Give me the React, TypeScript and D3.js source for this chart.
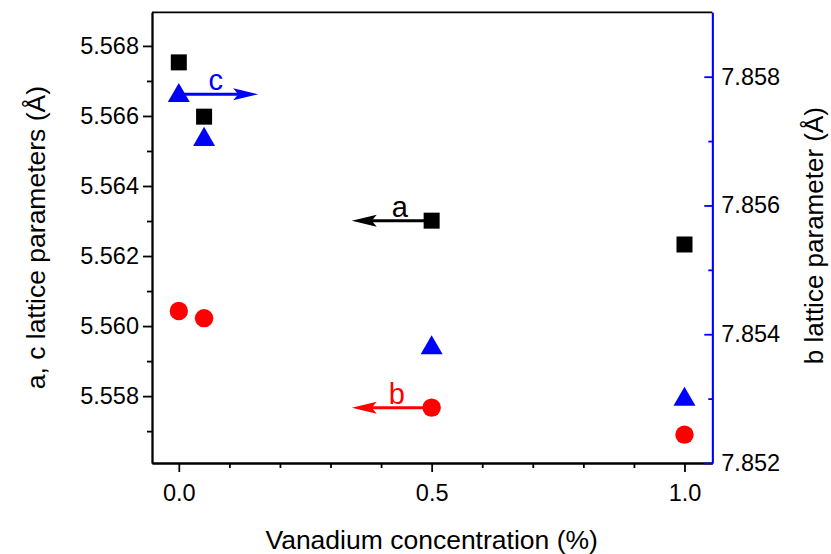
import React, { useEffect, useRef } from "react";
import * as d3 from "d3";

// vanadium concentration (%)
const conc = [0, 0.05, 0.5, 1.0];
// a lattice parameter (left axis), squares
const aValues = [5.56753, 5.56598, 5.56301, 5.56233];
// c lattice parameter (left axis), triangles
const cValues = [5.56662, 5.56537, 5.55942, 5.55795];
// b lattice parameter (right axis), circles
const bValues = [7.85436, 7.85425, 7.85286, 7.85244];

const xTicks = [0, 0.5, 1.0];
const xMinor = [0.1, 0.2, 0.3, 0.4, 0.6, 0.7, 0.8, 0.9];
const leftTicks = [5.558, 5.56, 5.562, 5.564, 5.566, 5.568];
const leftMinor = [5.557, 5.559, 5.561, 5.563, 5.565, 5.567];
const rightTicks = [7.852, 7.854, 7.856, 7.858];
const rightMinor = [7.853, 7.855, 7.857];

// arrow annotations: label, start x, end x, value, axis, colour, label x
const arrows = [
  { label: "a", from: 0.5, to: 0.342, value: 5.56301, axis: "left", color: "#000000", lx: 0.437 },
  { label: "c", from: 0.0, to: 0.157, value: 5.56662, axis: "left", color: "#0000ff", lx: 0.073 },
  { label: "b", from: 0.5, to: 0.342, value: 7.85286, axis: "right", color: "#ff0000", lx: 0.431 },
];

const App = () => {
  const ref = useRef<SVGSVGElement>(null);

  useEffect(() => {
    const svg = d3.select(ref.current);
    svg.selectAll("*").remove();

    const width = 831;
    const height = 554;
    const margin = { top: 12.3, right: 118.7, bottom: 91, left: 152 };
    const font = "'Liberation Sans', Arial, sans-serif";

    svg.attr("width", width).attr("height", height);

    const x = d3.scaleLinear().domain([-0.053, 1.055]).range([margin.left, width - margin.right]);
    const yL = d3.scaleLinear().domain([5.55609, 5.56896]).range([height - margin.bottom, margin.top]);
    const yR = d3.scaleLinear().domain([7.852, 7.859]).range([height - margin.bottom, margin.top]);

    const styleAxis = (g, color) => {
      g.selectAll("path").attr("stroke", color).attr("stroke-width", 1.8);
      g.selectAll("line").attr("stroke", color).attr("stroke-width", 1.8);
      g.selectAll("text").attr("fill", "#000").style("font-family", font).style("font-size", "23.5px");
    };

    // top border
    svg.append("line")
      .attr("x1", margin.left).attr("x2", width - margin.right)
      .attr("y1", margin.top).attr("y2", margin.top)
      .attr("stroke", "#000").attr("stroke-width", 1.8);

    // bottom axis
    const bottom = height - margin.bottom;
    svg.append("g").attr("transform", `translate(0,${bottom})`)
      .call(d3.axisBottom(x).tickValues(xMinor).tickSize(5).tickSizeOuter(0).tickFormat(() => ""))
      .call((g) => styleAxis(g, "#000"));
    svg.append("g").attr("transform", `translate(0,${bottom})`)
      .call(d3.axisBottom(x).tickValues(xTicks).tickSize(9).tickSizeOuter(0).tickPadding(12).tickFormat(d3.format(".1f")))
      .call((g) => styleAxis(g, "#000"));

    // left axis
    svg.append("g").attr("transform", `translate(${margin.left},0)`)
      .call(d3.axisLeft(yL).tickValues(leftMinor).tickSize(5).tickSizeOuter(0).tickFormat(() => ""))
      .call((g) => styleAxis(g, "#000"));
    svg.append("g").attr("transform", `translate(${margin.left},0)`)
      .call(d3.axisLeft(yL).tickValues(leftTicks).tickSize(9).tickSizeOuter(0).tickPadding(4).tickFormat(d3.format(".3f")))
      .call((g) => styleAxis(g, "#000"));

    // right axis (blue, ticks pointing in)
    const rx = width - margin.right;
    svg.append("g").attr("transform", `translate(${rx},0)`)
      .call(d3.axisRight(yR).tickValues(rightMinor).tickSize(-4).tickSizeOuter(0).tickFormat(() => ""))
      .call((g) => styleAxis(g, "#0000ff"));
    svg.append("g").attr("transform", `translate(${rx},0)`)
      .call(d3.axisRight(yR).tickValues(rightTicks).tickSize(-8).tickSizeOuter(0).tickPadding(9).tickFormat(d3.format(".3f")))
      .call((g) => styleAxis(g, "#0000ff"));

    // axis titles
    svg.append("text")
      .attr("x", x(0.5)).attr("y", 549)
      .attr("text-anchor", "middle")
      .style("font-family", font).style("font-size", "26.5px")
      .text("Vanadium concentration (%)");
    svg.append("text")
      .attr("transform", `translate(45,${(margin.top + bottom) / 2}) rotate(-90)`)
      .attr("text-anchor", "middle")
      .style("font-family", font).style("font-size", "26.5px")
      .text("a, c lattice parameters (Å)");
    svg.append("text")
      .attr("transform", `translate(823,${(margin.top + bottom) / 2 - 2}) rotate(-90)`)
      .attr("text-anchor", "middle")
      .style("font-family", font).style("font-size", "26px")
      .text("b lattice parameter (Å)");

    // arrows
    arrows.forEach((a) => {
      const yy = a.axis === "left" ? yL(a.value) : yR(a.value);
      const x1 = x(a.from);
      const x2 = x(a.to);
      const dir = Math.sign(x2 - x1);
      const head = 25;
      svg.append("line")
        .attr("x1", x1).attr("x2", x2 - dir * head * 0.6)
        .attr("y1", yy).attr("y2", yy)
        .attr("stroke", a.color).attr("stroke-width", 3);
      svg.append("path")
        .attr("d", `M${x2},${yy} L${x2 - dir * head},${yy - 6} L${x2 - dir * head * 0.8},${yy} L${x2 - dir * head},${yy + 6} Z`)
        .attr("fill", a.color);
      svg.append("text")
        .attr("x", x(a.lx)).attr("y", yy - 4)
        .attr("text-anchor", "middle")
        .style("font-family", font).style("font-size", "29px")
        .attr("fill", a.color)
        .text(a.label);
    });

    // c: triangles
    const tri = d3.symbol().type(d3.symbolTriangle).size(210);
    svg.selectAll(".tri").data(conc).enter().append("path")
      .attr("d", tri)
      .attr("transform", (d, i) => `translate(${x(d)},${yL(cValues[i]) + 1.5})`)
      .attr("fill", "#0000ff");

    // b: circles
    svg.selectAll(".circ").data(conc).enter().append("circle")
      .attr("cx", (d) => x(d))
      .attr("cy", (d, i) => yR(bValues[i]))
      .attr("r", 9.2)
      .attr("fill", "#ff0000");

    // a: squares
    svg.selectAll(".sq").data(conc).enter().append("rect")
      .attr("x", (d) => x(d) - 8)
      .attr("y", (d, i) => yL(aValues[i]) - 8)
      .attr("width", 16).attr("height", 16)
      .attr("fill", "#000");
  }, []);

  return <svg ref={ref} style={{ position: "absolute", left: 0, top: 0 }}></svg>;
};

export default App;
